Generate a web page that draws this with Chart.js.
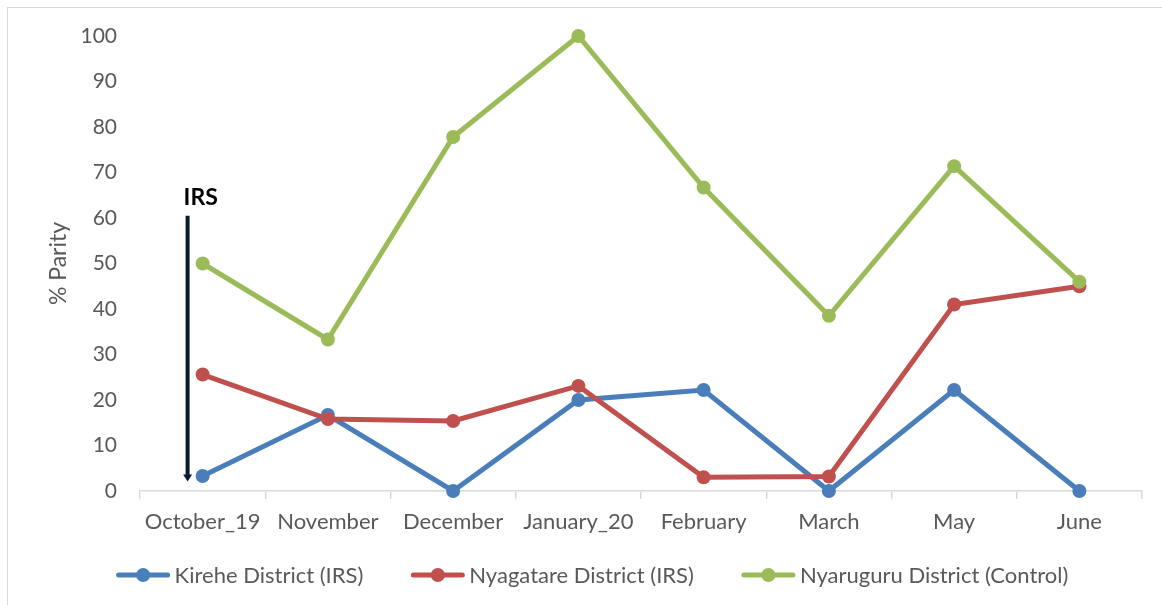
<!DOCTYPE html>
<html>
<head>
<meta charset="utf-8">
<script src="https://cdn.jsdelivr.net/npm/chart.js@4.4.1/dist/chart.umd.min.js"></script>
<style>
  html, body { margin: 0; padding: 0; background: #ffffff; }
  #wrap { width: 1162px; height: 605px; position: relative; }
</style>
</head>
<body>
<div id="wrap"><canvas id="c" width="1162" height="605"></canvas></div>
<script>
// Monthly % parity by district
const months = ['October_19', 'November', 'December', 'January_20', 'February', 'March', 'May', 'June'];
const kirehe = [3.3, 16.7, 0, 20, 22.2, 0, 22.2, 0];
const nyagatare = [25.6, 15.8, 15.4, 23.1, 3.0, 3.2, 41.0, 45.0];
const nyaruguru = [50, 33.3, 77.8, 100, 66.7, 38.5, 71.4, 46];
const seriesNames = ['Kirehe District (IRS)', 'Nyagatare District (IRS)', 'Nyaruguru District (Control)'];
const seriesColors = ['#4a7ebb', '#c0504d', '#9bbb59'];
const yTicks = [0, 10, 20, 30, 40, 50, 60, 70, 80, 90, 100];

const FONT = 'Lato, "Open Sans", sans-serif';
const GREY = '#595959';

// Outer frame line around the chart
const framePlugin = {
  id: 'frame',
  beforeDraw(chart) {
    const ctx = chart.ctx;
    ctx.save();
    ctx.fillStyle = '#ffffff';
    ctx.fillRect(0, 0, chart.width, chart.height);
    ctx.strokeStyle = '#d9d9d9';
    ctx.lineWidth = 1;
    ctx.strokeRect(7.5, 7.5, chart.width + 20, chart.height + 20);
    ctx.restore();
  }
};

// "IRS" marker arrow placed just before the first month
const irsPlugin = {
  id: 'irsArrow',
  afterDatasetsDraw(chart) {
    const { ctx, scales: { x, y } } = chart;
    const step = x.getPixelForValue(1) - x.getPixelForValue(0);
    const ax = x.getPixelForValue(0) - 0.12 * step;
    const top = y.getPixelForValue(60.5);
    const bottom = y.getPixelForValue(2.1);
    ctx.save();
    ctx.strokeStyle = '#0c1830';
    ctx.fillStyle = '#0c1830';
    ctx.lineWidth = 4;
    ctx.beginPath();
    ctx.moveTo(ax, top);
    ctx.lineTo(ax, bottom - 6);
    ctx.stroke();
    ctx.beginPath();
    ctx.moveTo(ax - 4.5, bottom - 7);
    ctx.lineTo(ax + 4.5, bottom - 7);
    ctx.lineTo(ax, bottom);
    ctx.closePath();
    ctx.fill();
    ctx.font = 'bold 23px ' + FONT;
    ctx.fillStyle = '#000000';
    ctx.textAlign = 'left';
    ctx.textBaseline = 'alphabetic';
    ctx.fillText('IRS', ax - 4, top - 11);
    ctx.restore();
  }
};

// Legend row: line + marker + label for each series
const legendPlugin = {
  id: 'lineLegend',
  afterDraw(chart) {
    const ctx = chart.ctx;
    const ds = chart.data.datasets;
    const lineLen = 53, textGap = 5, itemGap = 48;
    ctx.save();
    ctx.font = '22px ' + FONT;
    const widths = ds.map(d => lineLen + textGap + ctx.measureText(d.label).width);
    const total = widths.reduce((a, b) => a + b, 0) + itemGap * (ds.length - 1);
    let xPos = 592.5 - total / 2;
    const yPos = 575;
    ds.forEach((d, i) => {
      ctx.strokeStyle = d.borderColor;
      ctx.fillStyle = d.borderColor;
      ctx.lineWidth = 5;
      ctx.lineCap = 'round';
      ctx.beginPath();
      ctx.moveTo(xPos + 2, yPos);
      ctx.lineTo(xPos + lineLen - 2, yPos);
      ctx.stroke();
      ctx.beginPath();
      ctx.arc(xPos + lineLen / 2, yPos, 7, 0, Math.PI * 2);
      ctx.fill();
      ctx.fillStyle = GREY;
      ctx.textAlign = 'left';
      ctx.textBaseline = 'middle';
      ctx.fillText(d.label, xPos + lineLen + textGap, yPos + 1);
      xPos += widths[i] + itemGap;
    });
    ctx.restore();
  }
};

const seriesData = [kirehe, nyagatare, nyaruguru];
const drawOrder = [2, 1, 0];

new Chart(document.getElementById('c'), {
  type: 'line',
  data: {
    labels: months,
    datasets: seriesData.map((vals, i) => ({
      label: seriesNames[i],
      data: vals,
      borderColor: seriesColors[i],
      backgroundColor: seriesColors[i],
      pointBackgroundColor: seriesColors[i],
      pointBorderColor: seriesColors[i],
      borderWidth: 5,
      pointRadius: 7,
      pointBorderWidth: 0,
      pointHoverRadius: 7,
      tension: 0,
      fill: false,
      clip: false,
      order: drawOrder[i]
    }))
  },
  options: {
    responsive: false,
    animation: false,
    events: [],
    layout: { padding: { left: 30, right: 20, top: 36, bottom: 60 } },
    plugins: {
      legend: { display: false },
      tooltip: { enabled: false }
    },
    scales: {
      x: {
        offset: true,
        grid: {
          display: true,
          offset: true,
          drawOnChartArea: false,
          drawTicks: true,
          tickLength: 8,
          color: '#d9d9d9',
          lineWidth: 1.5
        },
        border: { display: true, color: '#d9d9d9', width: 1.5 },
        ticks: { color: GREY, font: { family: FONT, size: 22 }, padding: 10, maxRotation: 0, autoSkip: false },
        afterFit(scale) { scale.height = 605 - 60 - 491; }
      },
      y: {
        min: 0,
        max: 100,
        afterBuildTicks(scale) { scale.ticks = yTicks.map(v => ({ value: v })); },
        grid: { display: false, drawTicks: false },
        border: { display: false },
        ticks: { color: GREY, font: { family: FONT, size: 21 }, padding: 23 },
        title: {
          display: true,
          text: '% Parity',
          color: GREY,
          font: { family: FONT, size: 23 },
          padding: { top: 15, bottom: 0 }
        },
        afterFit(scale) { scale.width = 110; }
      }
    }
  },
  plugins: [framePlugin, irsPlugin, legendPlugin]
});
</script>
</body>
</html>
